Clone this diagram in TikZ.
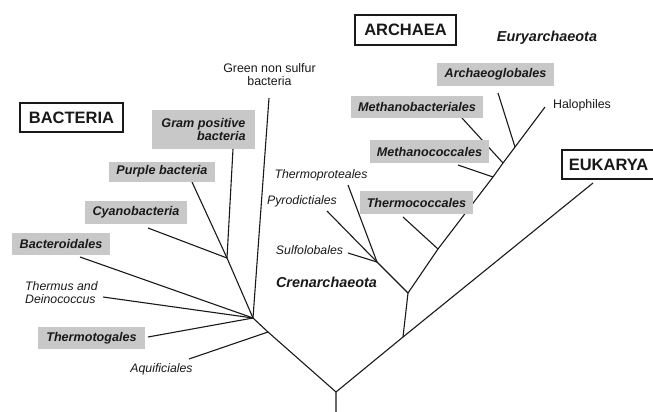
\documentclass[tikz,border=0pt]{standalone}
\usepackage{fontspec}
\setmainfont{Liberation Sans}
\definecolor{boxgray}{RGB}{200,200,200}
\definecolor{ink}{RGB}{25,25,25}
\tikzset{
  branch/.style={draw=ink, line width=1.1pt},
  gbox/.style={fill=boxgray, draw=none, inner sep=0pt, text=ink,
    font=\fontsize{12.6}{13.5}\selectfont\bfseries\itshape},
  domainbox/.style={draw=ink, line width=1.4pt, fill=white, inner sep=0pt, text=ink,
    font=\fontsize{16.5}{18}\selectfont\bfseries},
  phylum/.style={inner sep=0pt, text=ink, font=\fontsize{14.4}{16}\selectfont\bfseries\itshape},
  ilabel/.style={inner sep=0pt, text=ink, font=\fontsize{12.3}{13}\selectfont\itshape},
  rlabel/.style={inner sep=0pt, text=ink, font=\fontsize{12.4}{13}\selectfont},
}
\begin{document}
\begin{tikzpicture}[x=1pt,y=-1pt]
\useasboundingbox (0,0) rectangle (653,412);
% internal nodes
\coordinate (base) at (336,412);
\coordinate (R) at (336,392);
\coordinate (A) at (268,332);
\coordinate (B) at (253,318);
\coordinate (G) at (227,258);
\coordinate (X) at (403,337);
\coordinate (Y) at (408,293);
\coordinate (C) at (377,262);
\coordinate (T) at (438,249);
\coordinate (N1) at (493,177);
\coordinate (N2) at (503,163);
\coordinate (N3) at (515,147);
% leaf ends
\coordinate (gramE) at (233,149);
\coordinate (purpleE) at (192,182);
\coordinate (cyanoE) at (148,228);
\coordinate (greenE) at (269,98);
\coordinate (bacteroE) at (80,257);
\coordinate (thermusE) at (103,297);
\coordinate (thermotE) at (148,337);
\coordinate (aquifE) at (189,359);
\coordinate (eukE) at (593,183);
\coordinate (sulfE) at (348,253);
\coordinate (pyroE) at (327,211);
\coordinate (tprotE) at (348,185);
\coordinate (tcoccE) at (403,217);
\coordinate (mcoccE) at (458,165);
\coordinate (mbactE) at (462,118);
\coordinate (archE) at (498,93);
\coordinate (haloE) at (545,107);
% branches
\draw[branch] (base) -- (R) -- (A) -- (B) -- (G) -- (gramE);
\draw[branch] (G) -- (purpleE);
\draw[branch] (G) -- (cyanoE);
\draw[branch] (B) -- (greenE);
\draw[branch] (B) -- (bacteroE);
\draw[branch] (B) -- (thermusE);
\draw[branch] (B) -- (thermotE);
\draw[branch] (A) -- (aquifE);
\draw[branch] (R) -- (X) -- (eukE);
\draw[branch] (X) -- (Y) -- (C) -- (tprotE);
\draw[branch] (C) -- (pyroE);
\draw[branch] (C) -- (sulfE);
\draw[branch] (Y) -- (T) -- (N1) -- (N2) -- (N3) -- (haloE);
\draw[branch] (T) -- (tcoccE);
\draw[branch] (N1) -- (mcoccE);
\draw[branch] (N2) -- (mbactE);
\draw[branch] (N3) -- (archE);
% gray boxes
\node[gbox, minimum width=103pt, minimum height=39pt, align=right] (gram) at (203.5,129.5) {Gram positive\\bacteria};
\node[gbox, minimum width=106pt, minimum height=20pt] (purple) at (162,171.5) {Purple bacteria};
\node[gbox, minimum width=102pt, minimum height=23pt] (cyano) at (136,212.5) {Cyanobacteria};
\node[gbox, minimum width=98pt, minimum height=22pt] (bactero) at (61,244) {Bacteroidales};
\node[gbox, minimum width=107pt, minimum height=22pt] (thermot) at (91.5,338) {Thermotogales};
\node[gbox, minimum width=117pt, minimum height=23pt] (archaeo) at (495.5,74.5) {Archaeoglobales};
\node[gbox, minimum width=132pt, minimum height=22pt] (mbact) at (417,107) {Methanobacteriales};
\node[gbox, minimum width=119pt, minimum height=23pt] (mcocc) at (429.5,151.5) {Methanococcales};
\node[gbox, minimum width=113pt, minimum height=23pt] (tcocc) at (416.5,202.5) {Thermococcales};
% domain boxes
\node[domainbox, minimum width=103pt, minimum height=29pt] (bacteria) at (71.5,117.5) {BACTERIA};
\node[domainbox, minimum width=101pt, minimum height=30pt] (archaea) at (405.5,30) {ARCHAEA};
\node[domainbox, minimum width=93pt, minimum height=29pt] (eukarya) at (608.5,164.5) {EUKARYA};
% phyla
\node[phylum] (eury) at (547,38) {Euryarchaeota};
\node[phylum] (cren) at (326.5,282) {Crenarchaeota};
% plain labels
\node[ilabel, anchor=west, align=left] (thermus) at (25,292.5) {Thermus and\\Deinococcus};
\node[ilabel] (aquif) at (161.5,369) {Aquificiales};
\node[ilabel] (tprot) at (321,175) {Thermoproteales};
\node[ilabel] (pyro) at (302,201) {Pyrodictiales};
\node[ilabel] (sulf) at (309.5,250) {Sulfolobales};
\node[rlabel] (halo) at (582,105) {Halophiles};
\node[rlabel, align=center] (green) at (269.5,74.5) {Green non sulfur\\bacteria};
\end{tikzpicture}
\end{document}
